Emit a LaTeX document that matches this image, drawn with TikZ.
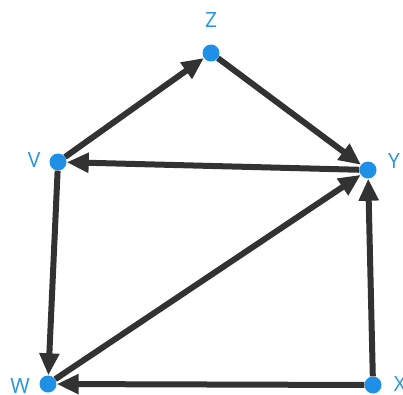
\documentclass[tikz,border=0pt]{standalone}
\usepackage{fontspec}
\setmainfont{Open Sans}
\usetikzlibrary{arrows.meta}
\definecolor{dotblue}{RGB}{30,144,230}
\definecolor{lblblue}{RGB}{40,150,215}
\definecolor{edgegray}{RGB}{50,50,50}
\begin{document}
\begin{tikzpicture}[x=1pt,y=-1pt,
  vert/.style={circle,fill=dotblue,minimum size=17pt,inner sep=0pt},
  lbl/.style={text=lblblue,font=\fontsize{21}{21}\selectfont,inner sep=0pt},
  edge/.style={draw=edgegray,line width=6pt,-{Triangle[length=22pt,width=19pt]}}]
\useasboundingbox (0,0) rectangle (403,394);
\node[vert] (Z) at (211,53) {};
\node[vert] (V) at (58,162) {};
\node[vert] (Y) at (368,170) {};
\node[vert] (W) at (48,384) {};
\node[vert] (X) at (373,385) {};
\node[lbl] (lz) at (211,20) {Z};
\node[lbl] (lv) at (34,160) {V};
\node[lbl] (ly) at (394,161) {Y};
\node[lbl] (lw) at (20,386) {W};
\node[lbl] (lx) at (400,384) {X};
\draw[edge] (V) -- (Z);
\draw[edge] (Z) -- (Y);
\draw[edge] (Y) -- (V);
\draw[edge] (V) -- (W);
\draw[edge] (W) -- (Y);
\draw[edge] (X) -- (W);
\draw[edge] (X) -- (Y);
\end{tikzpicture}
\end{document}
